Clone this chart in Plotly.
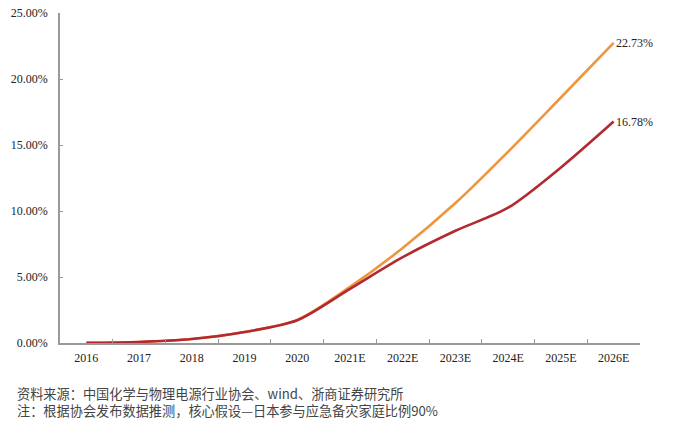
import plotly.graph_objects as go

years = ["2016", "2017", "2018", "2019", "2020", "2021E", "2022E", "2023E", "2024E", "2025E", "2026E"]
series_a = [0.0002, 0.0008, 0.0030, 0.0083, 0.0175, 0.0425, 0.0720, 0.1060, 0.1450, 0.1860, 0.2273]
series_b = [0.0002, 0.0008, 0.0030, 0.0083, 0.0172, 0.0410, 0.0650, 0.0850, 0.1025, 0.1330, 0.1678]
ytick_vals = [0, 0.05, 0.10, 0.15, 0.20, 0.25]
ytick_text = ["0.00%", "5.00%", "10.00%", "15.00%", "20.00%", "25.00%"]
footer = ["资料来源：中国化学与物理电源行业协会、wind、浙商证券研究所",
          "注：根据协会发布数据推测，核心假设—日本参与应急备灾家庭比例90%"]

color_a = "#F0953F"
color_b = "#B22A30"

fig = go.Figure()
fig.add_trace(go.Scatter(x=years, y=series_a, mode="lines",
                         line=dict(color=color_a, width=2.6, shape="spline", smoothing=0.8),
                         showlegend=False, hoverinfo="skip"))
fig.add_trace(go.Scatter(x=years, y=series_b, mode="lines",
                         line=dict(color=color_b, width=2.6, shape="spline", smoothing=0.8),
                         showlegend=False, hoverinfo="skip"))

for vals in (series_a, series_b):
    fig.add_annotation(x=years[-1], y=vals[-1], text=f"{vals[-1]*100:.2f}%",
                       showarrow=False, xanchor="left", yanchor="middle", xshift=0,
                       font=dict(family="Liberation Serif", size=12, color="#222"))

fig.add_annotation(xref="paper", yref="paper", x=-45/580, y=-58.5/330, xanchor="left", yanchor="middle",
                   text="<br>".join(footer), showarrow=False, align="left",
                   font=dict(family="Noto Sans CJK SC", size=13.2, color="#444"))

fig.update_layout(
    width=680, height=426,
    margin=dict(l=60, r=40, t=13, b=83, autoexpand=False),
    paper_bgcolor="white", plot_bgcolor="white",
    xaxis=dict(type="category", range=[-0.5, 10.5], showgrid=False, automargin=False,
               showline=True, linecolor="#999", linewidth=1.5,
               ticks="inside", ticklen=4, tickcolor="#999", tickson="boundaries",
               ticklabelstandoff=3,
               tickfont=dict(family="Liberation Serif", size=12, color="#222")),
    yaxis=dict(range=[0, 0.25], tickvals=ytick_vals, ticktext=ytick_text,
               showgrid=False, zeroline=False, automargin=False,
               showline=True, linecolor="#999", linewidth=1.5,
               ticks="inside", ticklen=3, tickcolor="#999",
               ticklabelstandoff=8, ticklabeloverflow="allow",
               tickfont=dict(family="Liberation Serif", size=12, color="#222")),
)

fig.write_html("out.html", config={"displayModeBar": False},
               post_script="document.body.style.margin='0';")
